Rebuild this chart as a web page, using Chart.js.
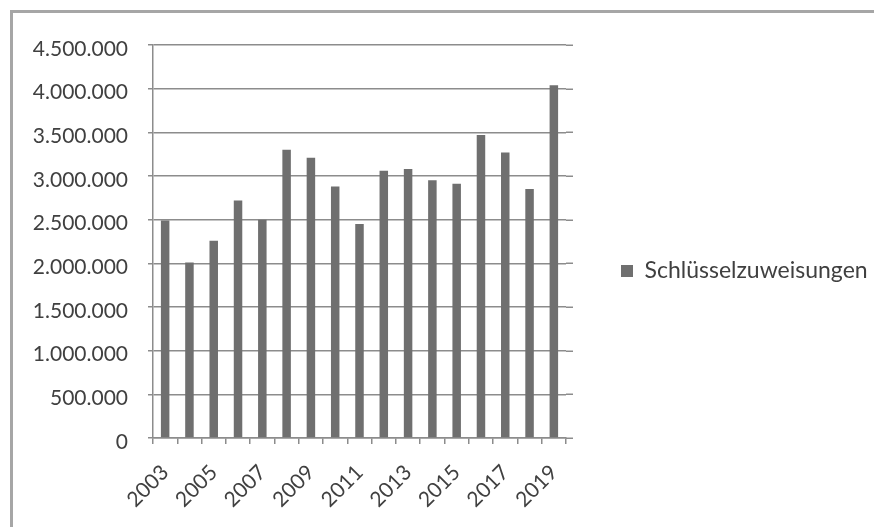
<!DOCTYPE html>
<html>
<head>
<meta charset="utf-8">
<script src="https://cdn.jsdelivr.net/npm/chart.js@4/dist/chart.umd.min.js"></script>
<style>
html,body{margin:0;padding:0;background:#fff;overflow:hidden;}
#wrap{position:relative;width:874px;height:527px;overflow:hidden;}
#frame{position:absolute;left:10px;top:10px;width:900px;height:600px;border-left:3px solid #a6a6a6;border-top:3px solid #a6a6a6;}
canvas{position:absolute;left:0;top:0;}
</style>
</head>
<body>
<div id="wrap"><div id="frame"></div><canvas id="c" width="874" height="527"></canvas></div>
<script>
// ---- data ----
const years = ['2003','2004','2005','2006','2007','2008','2009','2010','2011','2012','2013','2014','2015','2016','2017','2018','2019'];
const seriesName = 'Schlüsselzuweisungen';
const values = [2490000, 2010000, 2260000, 2720000, 2500000, 3300000, 3210000, 2880000, 2450000, 3060000, 3080000, 2950000, 2910000, 3470000, 3270000, 2850000, 4040000];
const yMin = 0;
const yMax = 4500000;
const yStep = 500000;

// ---- style ----
const textColor = '#404040';
const gridColor = '#8c8c8c';
const barColor = '#6f6f6f';
const fontFamily = 'Lato, "Open Sans", sans-serif';
const tickFontSize = 21;
const legendFontSize = 23;
const legendBox = 12;
const legendPad = 55;
const plotRight = 566;
const canvasW = 874;

function fmt(v) {
  return String(Math.round(v)).replace(/\B(?=(\d{3})+(?!\d))/g, '.');
}

// measure legend text to size the right-hand legend box
const mctx = document.createElement('canvas').getContext('2d');
mctx.font = legendFontSize + 'px ' + fontFamily;
const textW = mctx.measureText(seriesName).width;
const legendNatural = legendPad + 10 + legendBox + legendFontSize / 2 + textW;
const legendTarget = canvasW - plotRight;
const padRight = Math.max(0, legendTarget - legendNatural);
const legendMax = legendTarget - padRight;

const gridExt = {
  id: 'gridExt',
  beforeDatasetsDraw(chart) {
    const {ctx, chartArea, scales} = chart;
    const y = scales.y;
    ctx.save();
    ctx.strokeStyle = gridColor;
    ctx.lineWidth = 1.5;
    y.ticks.forEach(t => {
      const py = Math.round(y.getPixelForValue(t.value)) + 0.25;
      ctx.beginPath();
      ctx.moveTo(chartArea.right, py);
      ctx.lineTo(chartArea.right + 7, py);
      ctx.stroke();
    });
    ctx.restore();
  }
};

new Chart(document.getElementById('c'), {
  type: 'bar',
  data: {
    labels: years,
    datasets: [{
      label: seriesName,
      data: values,
      backgroundColor: barColor,
      borderWidth: 0,
      barPercentage: 0.35,
      categoryPercentage: 1.0
    }]
  },
  options: {
    responsive: false,
    devicePixelRatio: 1,
    animation: false,
    layout: { padding: { top: 45, right: padRight, bottom: 0, left: 0 } },
    plugins: {
      tooltip: { enabled: false },
      legend: {
        display: true,
        position: 'right',
        align: 'center',
        fullSize: false,
        maxWidth: legendMax,
        title: { display: true, text: ' ', padding: { top: 44.6, bottom: 0 }, font: { size: 12 } },
        labels: {
          boxWidth: legendBox,
          boxHeight: legendBox,
          padding: legendPad,
          color: textColor,
          textAlign: 'left',
          font: { family: fontFamily, size: legendFontSize }
        }
      }
    },
    scales: {
      x: {
        grid: { display: true, drawOnChartArea: false, offset: true, tickLength: 6, color: gridColor, lineWidth: 1.5 },
        border: { display: true, color: gridColor, width: 1.5 },
        ticks: {
          autoSkip: false,
          minRotation: 45,
          maxRotation: 45,
          padding: 16,
          color: textColor,
          font: { family: fontFamily, size: tickFontSize },
          callback: function(v, i) { return i % 2 === 0 ? this.getLabelForValue(v) : ''; }
        },
        afterFit: s => { s.height = 89; }
      },
      y: {
        min: yMin,
        max: yMax,
        ticks: {
          stepSize: yStep,
          padding: 20,
          labelOffset: 4,
          color: textColor,
          font: { family: fontFamily, size: tickFontSize },
          callback: v => fmt(v)
        },
        grid: { color: gridColor, lineWidth: 1.5, tickLength: 5 },
        border: { display: true, color: gridColor, width: 1.5 },
        afterFit: s => { s.width = 153; }
      }
    }
  },
  plugins: [gridExt]
});
</script>
</body>
</html>
